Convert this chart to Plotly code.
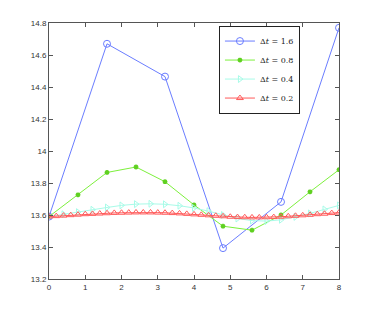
import plotly.graph_objects as go

x16 = [0, 1.6, 3.2, 4.8, 6.4, 8]
y16 = [13.59, 14.67, 14.465, 13.393, 13.682, 14.77]

x08 = [0, 0.8, 1.6, 2.4, 3.2, 4.0, 4.8, 5.6, 6.4, 7.2, 8.0]
y08 = [13.59, 13.726, 13.866, 13.90, 13.808, 13.663, 13.53, 13.505, 13.60, 13.745, 13.883]

x04 = [0, 0.4, 0.8, 1.2, 1.6, 2.0, 2.4, 2.8, 3.2, 3.6, 4.0, 4.4, 4.8, 5.2, 5.6, 6.0, 6.4, 6.8, 7.2, 7.6, 8.0]
y04 = [13.590, 13.605, 13.618, 13.633, 13.647, 13.660, 13.668, 13.670, 13.667, 13.658, 13.644, 13.624, 13.600,
       13.578, 13.565, 13.562, 13.570, 13.588, 13.610, 13.635, 13.660]

x02 = [0, 0.2, 0.4, 0.6, 0.8, 1.0, 1.2, 1.4, 1.6, 1.8, 2.0, 2.2, 2.4, 2.6, 2.8, 3.0, 3.2, 3.4, 3.6, 3.8, 4.0,
       4.2, 4.4, 4.6, 4.8, 5.0, 5.2, 5.4, 5.6, 5.8, 6.0, 6.2, 6.4, 6.6, 6.8, 7.0, 7.2, 7.4, 7.6, 7.8, 8.0]
y02 = [13.590, 13.593, 13.596, 13.599, 13.602, 13.605, 13.607, 13.609, 13.611, 13.613, 13.614, 13.615, 13.616,
       13.616, 13.616, 13.615, 13.614, 13.612, 13.610, 13.607, 13.604, 13.601, 13.598, 13.595, 13.592, 13.589,
       13.587, 13.586, 13.585, 13.585, 13.586, 13.587, 13.589, 13.592, 13.595, 13.598, 13.601, 13.605, 13.608,
       13.612, 13.615]

names = ["Δ<i>t</i> = 1.6", "Δ<i>t</i> = 0.8", "Δ<i>t</i> = 0.4", "Δ<i>t</i> = 0.2"]
yticks = [13.2, 13.4, 13.6, 13.8, 14.0, 14.2, 14.4, 14.6, 14.8]
ytick_text = ["13.2", "13.4", "13.6", "13.8", "14", "14.2", "14.4", "14.6", "14.8"]
xticks = [0, 1, 2, 3, 4, 5, 6, 7, 8]

fig = go.Figure()
fig.add_trace(go.Scatter(x=x16, y=y16, name=names[0], mode="lines+markers",
                         line=dict(color="#6a7dff", width=1),
                         marker=dict(symbol="circle-open", size=7, color="#6a7dff", line=dict(width=1))))
fig.add_trace(go.Scatter(x=x08, y=y08, name=names[1], mode="lines+markers",
                         line=dict(color="#7df03c", width=1),
                         marker=dict(symbol="asterisk-open", size=4, color="#5fd020", line=dict(width=1.5, color="#5fd020"))))
fig.add_trace(go.Scatter(x=x04, y=y04, name=names[2], mode="lines+markers",
                         line=dict(color="#a8fbe8", width=1),
                         marker=dict(symbol="triangle-right-open", size=6, color="#a8fbe8", line=dict(width=1))))
fig.add_trace(go.Scatter(x=x02, y=y02, name=names[3], mode="lines+markers",
                         line=dict(color="#ff5a5a", width=1),
                         marker=dict(symbol="triangle-up-open", size=6, color="#ff5a5a", line=dict(width=1))))

axis_common = dict(showgrid=False, zeroline=False, showline=True, linecolor="#555555", linewidth=1,
                   mirror="ticks", ticks="inside", ticklen=4, tickcolor="#555555",
                   tickfont=dict(family="Arial, Liberation Sans, sans-serif", size=8, color="#333333"))

fig.update_xaxes(range=[0, 8], tickvals=xticks, **axis_common)
fig.update_yaxes(range=[13.2, 14.8], tickvals=yticks, ticktext=ytick_text, **axis_common)

fig.update_layout(
    width=374, height=314,
    margin=dict(l=41, r=43, t=15, b=43),
    paper_bgcolor="white", plot_bgcolor="white",
    showlegend=True,
    legend=dict(x=0.586, y=0.99, xanchor="left", yanchor="top",
                bordercolor="#222222", borderwidth=1, bgcolor="white",
                font=dict(family="DejaVu Serif, serif", size=8, color="#222222"),
                tracegroupgap=0, itemwidth=30),
)

fig.write_html("out.html")
